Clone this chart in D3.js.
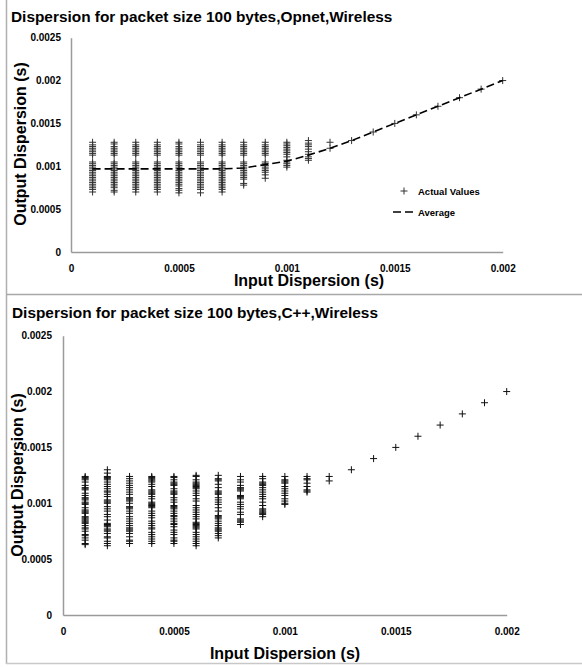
<!DOCTYPE html>
<html>
<head>
<meta charset="utf-8" />
<title>Dispersion</title>
<style>
  body { margin: 0; background: #fff; }
  svg text { font-family: "Liberation Sans", Arial, sans-serif; font-weight: bold; fill: #000; }
</style>
</head>
<body>
<svg id="chart" width="582" height="667"></svg>
<script src="https://cdn.jsdelivr.net/npm/d3@7"></script>
<script>
// input dispersion (s) for each column of points
var xValues = [0.0001, 0.0002, 0.0003, 0.0004, 0.0005, 0.0006, 0.0007, 0.0008, 0.0009, 0.001,
  0.0011, 0.0012, 0.0013, 0.0014, 0.0015, 0.0016, 0.0017, 0.0018, 0.0019, 0.002];

// Opnet: output dispersion samples per input dispersion
var opnetValues = [
  [0.00128, 0.00125, 0.00123, 0.00121, 0.00119, 0.00117, 0.00115, 0.00113, 0.00105, 0.00103, 0.00101, 0.00099, 0.00097, 0.00095, 0.00093, 0.00091, 0.00089, 0.00087, 0.00085, 0.00083, 0.00081, 0.00079, 0.00077, 0.00075, 0.00073, 0.0007],
  [0.00128, 0.00126, 0.00123, 0.00121, 0.00119, 0.00117, 0.00115, 0.00113, 0.00105, 0.00103, 0.00101, 0.00099, 0.00097, 0.00095, 0.00093, 0.00091, 0.00089, 0.00087, 0.00085, 0.00083, 0.00081, 0.00079, 0.00077, 0.00075, 0.00072, 0.0007],
  [0.00128, 0.00125, 0.00123, 0.00121, 0.00119, 0.00117, 0.00115, 0.00113, 0.00105, 0.00103, 0.00101, 0.00099, 0.00097, 0.00095, 0.00093, 0.00091, 0.00089, 0.00087, 0.00085, 0.00083, 0.00081, 0.00079, 0.00077, 0.00075, 0.00073, 0.0007],
  [0.00128, 0.00125, 0.00123, 0.00121, 0.00119, 0.00117, 0.00115, 0.00113, 0.00105, 0.00103, 0.00101, 0.00099, 0.00097, 0.00095, 0.00093, 0.00091, 0.00089, 0.00087, 0.00085, 0.00083, 0.00081, 0.00079, 0.00077, 0.00075, 0.00073, 0.0007],
  [0.00128, 0.00126, 0.00123, 0.00121, 0.00119, 0.00117, 0.00115, 0.00113, 0.00105, 0.00103, 0.00101, 0.00099, 0.00097, 0.00095, 0.00093, 0.00091, 0.00089, 0.00087, 0.00085, 0.00083, 0.00081, 0.00079, 0.00077, 0.00074, 0.00072, 0.00069],
  [0.00128, 0.00125, 0.00123, 0.00121, 0.00119, 0.00117, 0.00115, 0.00113, 0.00105, 0.00103, 0.00101, 0.00099, 0.00097, 0.00095, 0.00093, 0.00091, 0.00089, 0.00087, 0.00085, 0.00083, 0.00081, 0.00079, 0.00077, 0.00075, 0.00073, 0.00069],
  [0.00128, 0.00125, 0.00123, 0.00121, 0.00119, 0.00117, 0.00115, 0.00113, 0.00105, 0.00103, 0.00101, 0.00099, 0.00097, 0.00095, 0.00093, 0.00091, 0.00089, 0.00087, 0.00085, 0.00083, 0.00081, 0.00079, 0.00077, 0.00075, 0.00073, 0.0007],
  [0.00128, 0.00125, 0.00123, 0.00121, 0.00119, 0.00117, 0.00115, 0.00113, 0.00105, 0.00103, 0.00101, 0.00099, 0.00097, 0.00095, 0.00093, 0.00091, 0.00089, 0.00087, 0.00085, 0.0008, 0.00078],
  [0.00128, 0.00125, 0.00123, 0.00121, 0.00119, 0.00117, 0.00115, 0.00113, 0.00105, 0.00103, 0.00101, 0.00099, 0.00097, 0.00095, 0.00093, 0.0009, 0.00086],
  [0.00128, 0.00126, 0.00124, 0.00122, 0.0012, 0.00118, 0.00116, 0.00114, 0.00111, 0.00107, 0.00105, 0.00103, 0.00101, 0.00099],
  [0.0013, 0.00127, 0.00125, 0.00123, 0.0012, 0.00117, 0.00114, 0.00111, 0.00109, 0.00107],
  [0.00128, 0.00121],
  [0.0013], [0.0014], [0.0015], [0.0016], [0.0017], [0.0018], [0.0019], [0.002]
];

// Opnet: average output dispersion
var opnetAverage = [0.00097, 0.00097, 0.00097, 0.00097, 0.00097, 0.00097, 0.00097, 0.00098, 0.00102, 0.00106,
  0.00113, 0.00121, 0.0013, 0.0014, 0.0015, 0.0016, 0.0017, 0.0018, 0.0019, 0.002];

// C++: output dispersion samples per input dispersion
var cppValues = [
  [0.00124, 0.00123, 0.00122, 0.00121, 0.00119, 0.00116, 0.00114, 0.00113, 0.00112, 0.00109, 0.00107, 0.00105, 0.00104, 0.00103, 0.00101, 0.001, 0.00099, 0.00096, 0.00094, 0.00093, 0.00092, 0.00091, 0.00088, 0.00087, 0.00086, 0.00085, 0.00084, 0.00083, 0.00082, 0.0008, 0.00078, 0.00077, 0.00075, 0.00072, 0.00071, 0.00069, 0.00067, 0.00064, 0.00063],
  [0.0013, 0.00127, 0.00124, 0.00123, 0.00122, 0.00121, 0.00119, 0.00117, 0.00115, 0.00113, 0.00111, 0.0011, 0.00108, 0.00106, 0.00103, 0.00102, 0.00101, 0.001, 0.00097, 0.00095, 0.00093, 0.0009, 0.00088, 0.00085, 0.00082, 0.00081, 0.0008, 0.00079, 0.00077, 0.00076, 0.00075, 0.00073, 0.0007, 0.00069, 0.00066, 0.00064, 0.00062],
  [0.00124, 0.00122, 0.0012, 0.00118, 0.00116, 0.00114, 0.00112, 0.0011, 0.00108, 0.00105, 0.00104, 0.00103, 0.00102, 0.001, 0.00097, 0.00096, 0.00095, 0.00093, 0.00091, 0.00088, 0.00086, 0.00084, 0.00082, 0.0008, 0.00078, 0.00077, 0.00076, 0.00075, 0.00073, 0.0007, 0.00067, 0.00066, 0.00064],
  [0.00124, 0.00123, 0.00122, 0.00121, 0.0012, 0.00119, 0.00117, 0.00115, 0.00112, 0.00111, 0.0011, 0.00109, 0.00108, 0.00106, 0.00104, 0.00101, 0.001, 0.00099, 0.00098, 0.00097, 0.00096, 0.00093, 0.00091, 0.00089, 0.00087, 0.00084, 0.00082, 0.0008, 0.00078, 0.00077, 0.00074, 0.00072, 0.0007, 0.00068, 0.00066, 0.00064],
  [0.00124, 0.00123, 0.00121, 0.00119, 0.00118, 0.00117, 0.00116, 0.00113, 0.00111, 0.0011, 0.00109, 0.00108, 0.00105, 0.00103, 0.00101, 0.00098, 0.00097, 0.00096, 0.00095, 0.00093, 0.00091, 0.00089, 0.00088, 0.00086, 0.00084, 0.00082, 0.00081, 0.00079, 0.00076, 0.00074, 0.00072, 0.00069, 0.00067, 0.00066, 0.00064],
  [0.00125, 0.00124, 0.00121, 0.00119, 0.00118, 0.00117, 0.00116, 0.00115, 0.00114, 0.00113, 0.00111, 0.00109, 0.00107, 0.00104, 0.00102, 0.00098, 0.00096, 0.00094, 0.00092, 0.0009, 0.00088, 0.00086, 0.00083, 0.00082, 0.00081, 0.0008, 0.00079, 0.00078, 0.00077, 0.00074, 0.00072, 0.0007, 0.00068, 0.00066, 0.00064, 0.00062],
  [0.00125, 0.00122, 0.00121, 0.0012, 0.00117, 0.00114, 0.00111, 0.0011, 0.00109, 0.00108, 0.00105, 0.00103, 0.00101, 0.00099, 0.00096, 0.00093, 0.00089, 0.00088, 0.00087, 0.00086, 0.00084, 0.00082, 0.0008, 0.00078, 0.00077, 0.00076, 0.00075, 0.00073, 0.00071, 0.00069],
  [0.00124, 0.00121, 0.00119, 0.00116, 0.00114, 0.00113, 0.00112, 0.00111, 0.00107, 0.00106, 0.00105, 0.00104, 0.00101, 0.00099, 0.00097, 0.00095, 0.00092, 0.0009, 0.00086, 0.00085, 0.00084, 0.00083, 0.00081],
  [0.00124, 0.00122, 0.00119, 0.00118, 0.00117, 0.00116, 0.00114, 0.00112, 0.0011, 0.00108, 0.00106, 0.00104, 0.00101, 0.00098, 0.00095, 0.00094, 0.00093, 0.00092, 0.00091, 0.0009, 0.00088],
  [0.00124, 0.00121, 0.0012, 0.00119, 0.00118, 0.00115, 0.00113, 0.00111, 0.00109, 0.00107, 0.00104, 0.00102, 0.001, 0.00099],
  [0.00124, 0.00122, 0.00121, 0.00118, 0.00115, 0.00112, 0.00111, 0.0011],
  [0.00124, 0.0012],
  [0.0013], [0.0014], [0.0015], [0.0016], [0.0017], [0.0018], [0.0019], [0.002]
];

var xTicks = [0, 0.0005, 0.001, 0.0015, 0.002];
var xTickLabels = ["0", "0.0005", "0.001", "0.0015", "0.002"];
var yTicks = [0, 0.0005, 0.001, 0.0015, 0.002, 0.0025];
var yTickLabels = ["0", "0.0005", "0.001", "0.0015", "0.002", "0.0025"];

var svg = d3.select("#chart");

// panel frame lines
svg.append("line").attr("x1", 6.5).attr("x2", 6.5).attr("y1", 0).attr("y2", 664)
  .attr("stroke", "#b0b0b0").attr("stroke-width", 1.5);
svg.append("line").attr("x1", 6).attr("x2", 582).attr("y1", 294.5).attr("y2", 294.5)
  .attr("stroke", "#a8a8a8").attr("stroke-width", 1.5);
svg.append("line").attr("x1", 6).attr("x2", 582).attr("y1", 663.5).attr("y2", 663.5)
  .attr("stroke", "#c8c8c8").attr("stroke-width", 1.5);

function plus(s) {
  return "M" + (-s) + ",0H" + s + "M0," + (-s) + "V" + s;
}

function drawPanel(p) {
  var x = d3.scaleLinear().domain([0, 0.002]).range([p.left, p.right]);
  var y = d3.scaleLinear().domain([0, 0.0025]).range([p.bottom, p.top]);

  svg.append("text").attr("x", p.titleX).attr("y", p.titleY)
    .style("font-size", "15.4px").text(p.title);

  var gy = svg.append("g").attr("transform", "translate(" + p.left + ",0)")
    .call(d3.axisLeft(y).tickValues(yTicks).tickSize(0).tickPadding(p.yPad)
      .tickFormat(function(d, i) { return yTickLabels[i]; }));
  var gx = svg.append("g").attr("transform", "translate(0," + p.bottom + ")")
    .call(d3.axisBottom(x).tickValues(xTicks).tickSize(0).tickPadding(13)
      .tickFormat(function(d, i) { return xTickLabels[i]; }));
  [gy, gx].forEach(function(g) {
    g.select(".domain").attr("stroke", "#9a9a9a").attr("stroke-width", 1.5);
    g.selectAll("text").style("font-size", "10px").style("font-family", null);
  });

  // scatter points
  var pts = [];
  p.values.forEach(function(col, i) {
    col.forEach(function(v) { pts.push([xValues[i], v]); });
  });
  svg.append("g").selectAll("path").data(pts).enter().append("path")
    .attr("transform", function(d) { return "translate(" + x(d[0]) + "," + y(d[1]) + ")"; })
    .attr("d", plus(3.5))
    .attr("fill", "none").attr("stroke", p.markColor).attr("stroke-width", 1);

  if (p.average) {
    svg.append("path").datum(p.average)
      .attr("d", d3.line().x(function(d, i) { return x(xValues[i]); }).y(function(d) { return y(d); }))
      .attr("fill", "none").attr("stroke", "#000").attr("stroke-width", 1.6)
      .attr("stroke-dasharray", "8,4");
  }

  svg.append("text").attr("x", p.xTitleX).attr("y", p.xTitleY).attr("text-anchor", "middle")
    .style("font-size", "16px").text("Input Dispersion (s)");
  svg.append("text").attr("transform", "translate(" + p.yTitleX + "," + p.yTitleY + ") rotate(-90)")
    .attr("text-anchor", "middle").style("font-size", "16px").text("Output Dispersion (s)");
}

drawPanel({
  title: "Dispersion for packet size 100 bytes,Opnet,Wireless", titleX: 11, titleY: 22,
  left: 71, right: 502.7, top: 37.7, bottom: 252, yPad: 10,
  values: opnetValues, average: opnetAverage, markColor: "#333",
  xTitleX: 309, xTitleY: 285.5, yTitleX: 26, yTitleY: 144
});

drawPanel({
  title: "Dispersion for packet size 100 bytes,C++,Wireless", titleX: 12, titleY: 318,
  left: 63, right: 506.7, top: 335.7, bottom: 615, yPad: 11,
  values: cppValues, average: null, markColor: "#111",
  xTitleX: 285, xTitleY: 659, yTitleX: 23, yTitleY: 475
});

// legend of the Opnet panel
var lg = svg.append("g");
lg.append("path").attr("transform", "translate(404,191)").attr("d", plus(3.5))
  .attr("fill", "none").attr("stroke", "#333").attr("stroke-width", 1);
lg.append("text").attr("x", 418).attr("y", 194.5).style("font-size", "9.5px").text("Actual Values");
lg.append("line").attr("x1", 393).attr("x2", 415).attr("y1", 212).attr("y2", 212)
  .attr("stroke", "#000").attr("stroke-width", 1.6).attr("stroke-dasharray", "8,4");
lg.append("text").attr("x", 418).attr("y", 215.5).style("font-size", "9.5px").text("Average");
</script>
</body>
</html>
